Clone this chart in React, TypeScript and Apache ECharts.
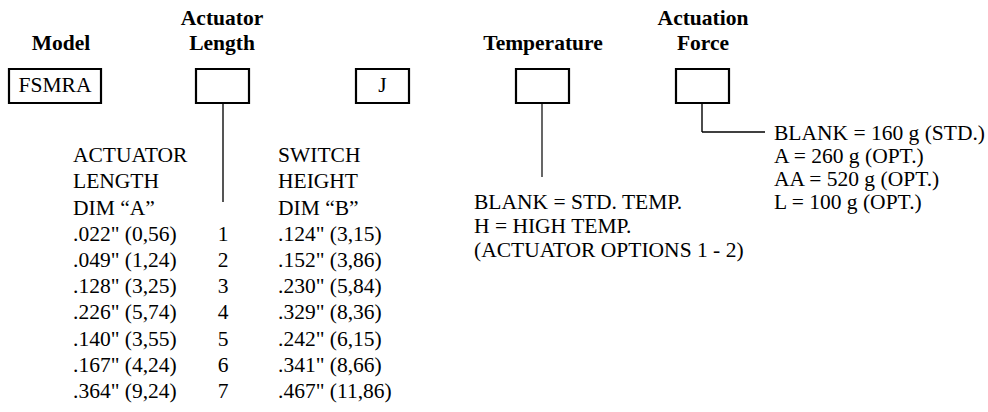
import React, { useEffect, useRef } from "react";
import * as echarts from "echarts";

// ---- Data ----
const fieldTitles: string[][] = [["Model"], ["Actuator", "Length"], [], ["Temperature"], ["Actuation", "Force"]];
const boxTexts: string[] = ["FSMRA", "", "J", "", ""];
const actuatorHeading: string[] = ["ACTUATOR", "LENGTH", "DIM \u201cA\u201d"];
const switchHeading: string[] = ["SWITCH", "HEIGHT", "DIM \u201cB\u201d"];
const actuatorLengthDims: string[] = [
  '.022" (0,56)',
  '.049" (1,24)',
  '.128" (3,25)',
  '.226" (5,74)',
  '.140" (3,55)',
  '.167" (4,24)',
  '.364" (9,24)',
];
const optionNumbers: string[] = ["1", "2", "3", "4", "5", "6", "7"];
const switchHeightDims: string[] = [
  '.124" (3,15)',
  '.152" (3,86)',
  '.230" (5,84)',
  '.329" (8,36)',
  '.242" (6,15)',
  '.341" (8,66)',
  '.467" (11,86)',
];
const temperatureOptions: string[] = ["BLANK = STD. TEMP.", "H = HIGH TEMP.", "(ACTUATOR OPTIONS 1 - 2)"];
const forceOptions: string[] = ["BLANK = 160 g (STD.)", "A = 260 g (OPT.)", "AA = 520 g (OPT.)", "L = 100 g (OPT.)"];

// ---- Layout ----
const FONT = "'Liberation Serif', 'Times New Roman', serif";
const FS = 21.5;
const MID = 6.8; // baseline -> middle offset

export default function App() {
  const ref = useRef<HTMLDivElement>(null);
  useEffect(() => {
    if (!ref.current) return;
    const chart = echarts.init(ref.current, null, { renderer: "svg" });
    const els: any[] = [];

    const text = (t: string, x: number, baseline: number, align: string, bold = false) => {
      els.push({
        type: "text",
        x,
        y: baseline - MID,
        silent: true,
        style: {
          text: t,
          fontFamily: FONT,
          fontSize: FS,
          fontWeight: bold ? "bold" : "normal",
          fill: "#000",
          align,
          verticalAlign: "middle",
        },
      });
    };
    const line = (x1: number, y1: number, x2: number, y2: number, stroke = "#000", lw = 1.2) => {
      els.push({ type: "line", silent: true, shape: { x1, y1, x2, y2 }, style: { stroke, lineWidth: lw } });
    };

    // boxes
    const boxes = [
      { x: 8, w: 94 },
      { x: 195, w: 55 },
      { x: 355, w: 55 },
      { x: 515, w: 55 },
      { x: 675, w: 55 },
    ];
    const titleCenters = [61, 222, 382, 543, 703];
    boxes.forEach((b, i) => {
      els.push({
        type: "rect",
        silent: true,
        shape: { x: b.x + 1, y: 69, width: b.w - 2, height: 34 },
        style: { fill: "none", stroke: "#000", lineWidth: 2.2 },
      });
      if (boxTexts[i]) text(boxTexts[i], b.x + b.w / 2, 92, "center");
      const lines = fieldTitles[i];
      lines.forEach((t, j) => {
        const base = 50 - (lines.length - 1 - j) * 25;
        text(t, titleCenters[i], base, "center", true);
      });
    });

    // connectors
    line(223, 104, 223, 202, "#555", 2);
    line(542, 104, 542, 177, "#000", 1.2);
    line(702, 104, 702, 132, "#000", 1.4);
    line(702, 132, 765, 132, "#000", 1.4);

    // table
    const P = 26.2;
    actuatorHeading.forEach((t, i) => text(t, 73, 162 + i * P, "left"));
    switchHeading.forEach((t, i) => text(t, 278, 162 + i * P, "left"));
    actuatorLengthDims.forEach((t, i) => text(t, 73, 162 + (i + 3) * P, "left"));
    optionNumbers.forEach((t, i) => text(t, 223, 162 + (i + 3) * P, "center"));
    switchHeightDims.forEach((t, i) => text(t, 278, 162 + (i + 3) * P, "left"));

    // temperature options
    temperatureOptions.forEach((t, i) => text(t, 474, 209 + i * 24, "left"));
    // force options
    forceOptions.forEach((t, i) => text(t, 774, 140 + i * 23, "left"));

    chart.setOption({
      animation: false,
      backgroundColor: "#fff",
      graphic: { elements: els },
    });
    return () => chart.dispose();
  }, []);

  return (
    <div
      ref={ref}
      style={{ position: "fixed", left: 0, top: 0, width: 988, height: 412, background: "#fff" }}
    />
  );
}
